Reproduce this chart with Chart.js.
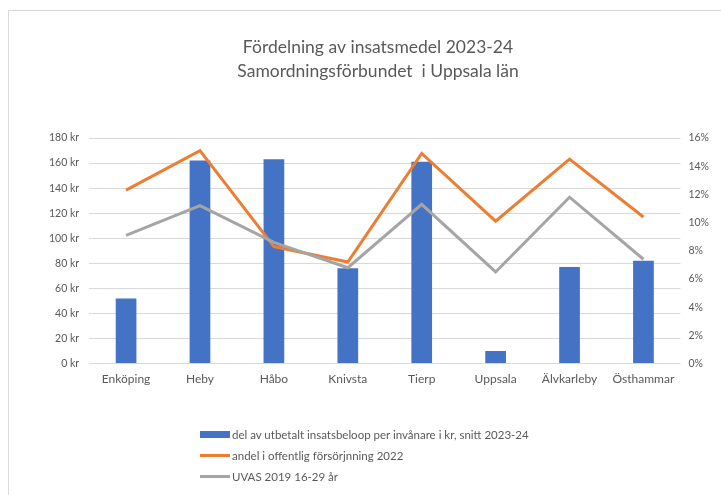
<!DOCTYPE html>
<html>
<head>
<meta charset="utf-8">
<script src="https://cdn.jsdelivr.net/npm/chart.js@4/dist/chart.umd.min.js"></script>
<style>
  html, body { margin: 0; padding: 0; background: #fff; }
  #wrap { position: relative; width: 721px; height: 495px; overflow: hidden; }
  #frame { position: absolute; left: 8px; top: 10px; width: 760px; height: 500px;
           border-left: 1px solid #d9d9d9; border-top: 1px solid #d9d9d9; pointer-events: none; }
  #c { position: absolute; left: 0; top: 0; }
  #legend { position: absolute; left: 200px; top: 424px; font-family: Lato, sans-serif;
            font-size: 11.5px; color: #595959; }
  .li { height: 21px; display: flex; align-items: center; white-space: nowrap; }
  .sw { width: 30px; margin-right: 2px; }
</style>
</head>
<body>
<div id="wrap">
  <canvas id="c" width="721" height="495"></canvas>
  <div id="frame"></div>
  <div id="legend"></div>
</div>
<script>
const categories = ['Enköping', 'Heby', 'Håbo', 'Knivsta', 'Tierp', 'Uppsala', 'Älvkarleby', 'Östhammar'];
const insatsKr = [52, 162, 163, 76, 161, 10, 77, 82];
const forsorjning = [12.3, 15.1, 8.3, 7.2, 14.9, 10.1, 14.5, 10.4];
const uvas = [9.1, 11.2, 8.6, 6.8, 11.3, 6.5, 11.8, 7.4];
const seriesNames = [
  'del av utbetalt insatsbeloop per invånare i kr, snitt 2023-24',
  'andel i offentlig försörjnning 2022',
  'UVAS 2019 16-29 år'
];
const titleLines = ['Fördelning av insatsmedel 2023-24', 'Samordningsförbundet  i Uppsala län'];

const BLUE = '#4472C4', ORANGE = '#ED7D31', GRAY = '#A5A5A5';
const TXT = '#595959', GRID = '#d9d9d9';
const FONT = 'Lato, sans-serif';

const chart = new Chart(document.getElementById('c'), {
  data: {
    labels: categories,
    datasets: [
      { type: 'bar', label: seriesNames[0], data: insatsKr, backgroundColor: BLUE,
        yAxisID: 'y', order: 3, categoryPercentage: 1, barPercentage: 0.28 },
      { type: 'line', label: seriesNames[1], data: forsorjning, borderColor: ORANGE,
        backgroundColor: ORANGE, borderWidth: 3, pointRadius: 0, tension: 0,
        yAxisID: 'y1', order: 2 },
      { type: 'line', label: seriesNames[2], data: uvas, borderColor: GRAY,
        backgroundColor: GRAY, borderWidth: 3, pointRadius: 0, tension: 0,
        yAxisID: 'y1', order: 1 }
    ]
  },
  options: {
    responsive: false,
    animation: false,
    layout: { padding: { left: 39, right: 4, top: 18, bottom: 109 } },
    plugins: {
      legend: { display: false },
      tooltip: { enabled: false },
      title: {
        display: true, text: titleLines, color: TXT,
        font: { family: FONT, size: 17.5, weight: 'normal', lineHeight: 1.4 },
        padding: { top: 17, bottom: 54 }
      }
    },
    scales: {
      x: {
        grid: { display: false },
        border: { display: false },
        ticks: { color: TXT, font: { family: FONT, size: 12 }, padding: 0, maxRotation: 0 }
      },
      y: {
        position: 'left', min: 0, max: 180,
        ticks: { stepSize: 20, color: TXT, font: { family: FONT, size: 10.5 }, padding: 10,
                 callback: v => v + ' kr' },
        grid: { color: GRID, lineWidth: 1, drawTicks: false },
        border: { display: false }
      },
      y1: {
        position: 'right', min: 0, max: 16,
        ticks: { stepSize: 2, color: TXT, font: { family: FONT, size: 10.5 }, padding: 8,
                 callback: v => v + '%' },
        grid: { drawOnChartArea: false, drawTicks: false },
        border: { display: false }
      }
    }
  }
});

// HTML legend built from the chart's datasets
const leg = document.getElementById('legend');
chart.data.datasets.forEach(ds => {
  const row = document.createElement('div');
  row.className = 'li';
  const sw = document.createElement('span');
  sw.className = 'sw';
  if (ds.type === 'bar') { sw.style.height = '7px'; sw.style.background = ds.backgroundColor; }
  else { sw.style.height = '3px'; sw.style.background = ds.borderColor; }
  const t = document.createElement('span');
  t.textContent = ds.label;
  row.appendChild(sw); row.appendChild(t);
  leg.appendChild(row);
});
</script>
</body>
</html>
